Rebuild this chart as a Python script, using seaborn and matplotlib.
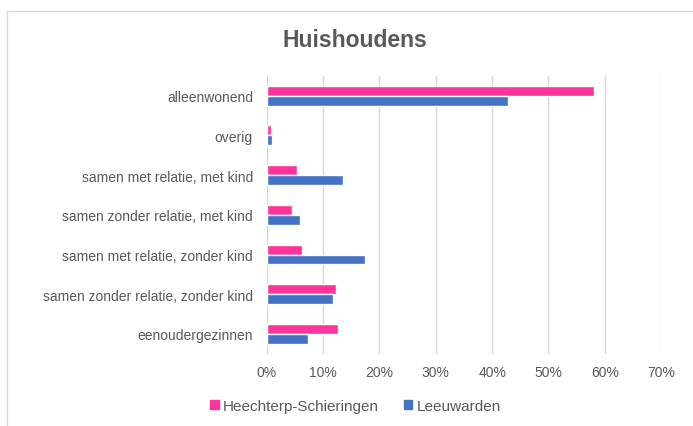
import matplotlib
matplotlib.use("Agg")
import matplotlib.pyplot as plt
from matplotlib.patches import Rectangle
from matplotlib.ticker import PercentFormatter
import pandas as pd
import seaborn as sns

categories = [
    "alleenwonend",
    "overig",
    "samen met relatie, met kind",
    "samen zonder relatie, met kind",
    "samen met relatie, zonder kind",
    "samen zonder relatie, zonder kind",
    "eenoudergezinnen",
]
heechterp = [0.581, 0.008, 0.053, 0.044, 0.062, 0.122, 0.127]
leeuwarden = [0.428, 0.010, 0.136, 0.059, 0.174, 0.117, 0.073]
series = ["Heechterp-Schieringen", "Leeuwarden"]
colors = ["#FF3399", "#4472C4"]

df = pd.concat([
    pd.DataFrame({"categorie": categories, "aandeel": heechterp, "gebied": series[0]}),
    pd.DataFrame({"categorie": categories, "aandeel": leeuwarden, "gebied": series[1]}),
])

sns.set_theme(style="white")
plt.rcParams["font.family"] = ["Liberation Sans", "DejaVu Sans"]

fig = plt.figure(figsize=(6.93, 4.27), dpi=100)
ax = fig.add_axes([0.385, 0.169, 0.569, 0.651])

sns.barplot(data=df, x="aandeel", y="categorie", hue="gebied", order=categories,
            hue_order=series, palette=colors, orient="h", width=0.5,
            saturation=1, ax=ax, legend=False)

ax.set_xlim(0, 0.7)
ax.set_ylim(6.5, -0.5)
ax.xaxis.set_major_formatter(PercentFormatter(1.0, decimals=0))
ax.set_xticks([i / 10 for i in range(8)])
ax.grid(axis="x", color="#D9D9D9", linewidth=1)
ax.set_axisbelow(True)
for s in ax.spines.values():
    s.set_visible(False)
ax.tick_params(axis="both", length=0, labelsize=10, colors="#595959", pad=8)
ax.tick_params(axis="y", pad=10)
ax.set_xlabel("")
ax.set_ylabel("")

fig.text(0.512, 0.905, "Huishoudens", ha="center", va="center",
         fontsize=16.5, fontweight="bold", color="#595959")

handles = [Rectangle((0, 0), 1, 1, color=c) for c in colors]
fig.legend(handles, series, loc="center", bbox_to_anchor=(0.513, 0.047), ncol=2,
           frameon=False, fontsize=11, labelcolor="#595959", handlelength=0.55,
           handleheight=0.55, handletextpad=0.3, columnspacing=1.6)

fig.patches.append(Rectangle((7 / 693, -0.01), 1.0, 1 - 12 / 427 + 0.01,
                             transform=fig.transFigure, fill=False,
                             edgecolor="#D9D9D9", linewidth=1))

fig.savefig("out.png", dpi=100)
